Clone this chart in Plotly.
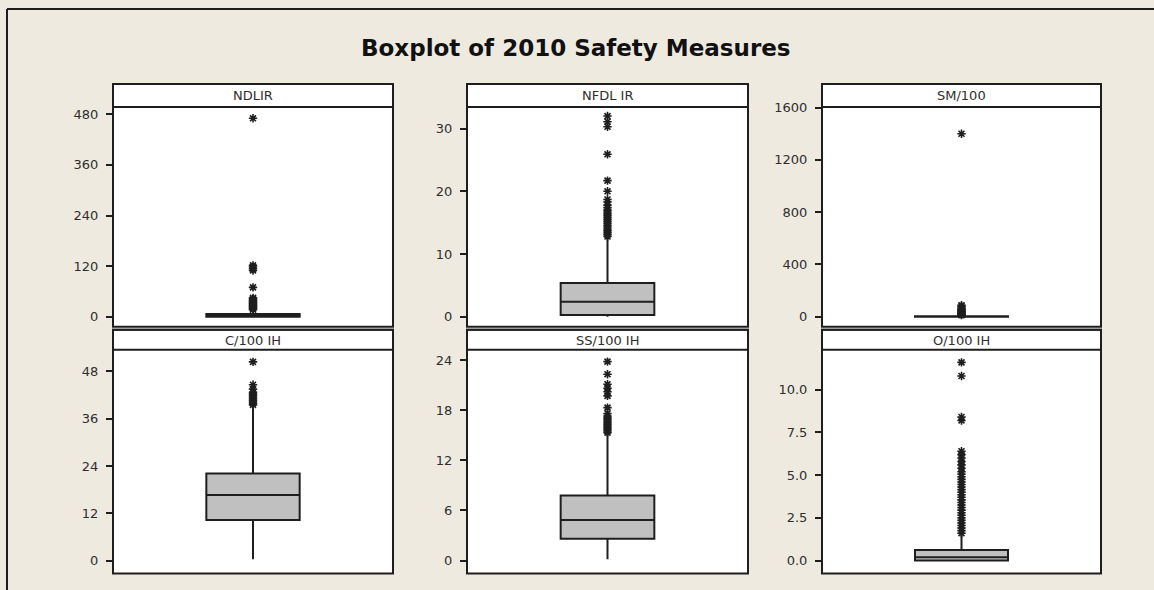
import plotly.graph_objects as go

W, H = 1154, 590

# ---- data ----
panel_titles = ["NDLIR", "NFDL IR", "SM/100", "C/100 IH", "SS/100 IH", "O/100 IH"]

q1_vals = [0.5, 0.27, 0.0, 10.3, 2.6, 0.0]
median_vals = [3.0, 2.4, 1.0, 16.6, 4.86, 0.19]
q3_vals = [7.0, 5.37, 4.0, 22.1, 7.77, 0.62]
lower_whisker = [0.0, 0.0, 0.0, 0.3, 0.15, 0.0]
upper_whisker = [16.0, 12.6, 10.0, 39.3, 15.1, 1.55]

out_ndlir = [17, 19, 21, 23, 25, 27, 29, 31, 33, 35, 37, 39, 42, 45, 70, 110, 114, 118, 122, 470]
out_nfdlir = [12.8, 13.1, 13.4, 13.7, 14.0, 14.3, 14.6, 14.9, 15.2, 15.5, 15.8, 16.1, 16.4,
              16.7, 17.0, 17.4, 17.8, 18.3, 18.7, 20.0, 21.7, 25.9, 30.3, 31.1, 32.0]
out_sm = [12, 16, 20, 25, 30, 35, 40, 45, 50, 55, 60, 70, 80, 88, 1400]
out_c = [39.5, 39.9, 40.3, 40.7, 41.1, 41.5, 41.9, 42.3, 42.7, 43.5, 44.6, 50.4]
out_ss = [15.3, 15.5, 15.7, 15.9, 16.1, 16.3, 16.5, 16.7, 16.9, 17.1, 17.3, 17.6,
          18.3, 19.7, 20.2, 20.6, 21.1, 22.3, 23.8]
out_o = [1.6, 1.75, 1.9, 2.05, 2.2, 2.35, 2.5, 2.65, 2.8, 2.95, 3.1, 3.25, 3.4, 3.55,
         3.7, 3.85, 4.0, 4.15, 4.3, 4.45, 4.6, 4.75, 4.9, 5.05, 5.2, 5.4, 5.6, 5.8,
         6.0, 6.2, 6.4, 8.2, 8.4, 10.8, 11.6]
outliers = [out_ndlir, out_nfdlir, out_sm, out_c, out_ss, out_o]

y_ranges = [[-23.2, 497], [-1.59, 33.46], [-76.5, 1605], [-3.3, 53.5], [-1.55, 25.23], [-0.76, 12.34]]
tick_vals = [[0, 120, 240, 360, 480], [0, 10, 20, 30], [0, 400, 800, 1200, 1600],
             [0, 12, 24, 36, 48], [0, 6, 12, 18, 24], [0, 2.5, 5, 7.5, 10]]
tick_formats = ["d", "d", "d", "d", "d", ".1f"]

# ---- layout geometry (pixels, target positions) ----
cols = [(113, 393), (467, 748), (822, 1101)]
plot_rows = [(106, 326), (349, 573)]
strip_rows = [(83, 106), (329, 349)]

def px(x):
    return x / W

def py(y):
    # empirical correction for vertical placement observed in the renderer
    y_in = (y - 6.0) / 0.989
    return 1 - y_in / H

BG = "#EEEAE0"
INK = "#1e1e1e"
TXT = "#2e2e2e"
FONT = "DejaVu Sans"

fig = go.Figure()
layout = dict(
    width=W, height=H, margin=dict(l=0, r=0, t=0, b=0),
    paper_bgcolor=BG, plot_bgcolor="white", showlegend=False,
)
shapes = []
annotations = []

for i in range(6):
    r, c = divmod(i, 3)
    n = "" if i == 0 else str(i + 1)
    xa, ya = "x" + n, "y" + n
    fig.add_trace(go.Box(
        x=[0], q1=[q1_vals[i]], median=[median_vals[i]], q3=[q3_vals[i]],
        lowerfence=[lower_whisker[i]], upperfence=[upper_whisker[i]],
        width=1.0, whiskerwidth=0, boxpoints=False,
        fillcolor="#C0C0C0", line=dict(color=INK, width=2),
        xaxis=xa, yaxis=ya, hoverinfo="skip",
    ))
    fig.add_trace(go.Scatter(
        x=[0] * len(outliers[i]), y=outliers[i], mode="markers",
        marker=dict(symbol="asterisk-open", size=7, color=INK,
                    line=dict(color=INK, width=1.6)),
        xaxis=xa, yaxis=ya, hoverinfo="skip",
    ))
    x0, x1 = cols[c]
    y0, y1 = plot_rows[r]
    s0, s1 = strip_rows[r]
    layout["xaxis" + n] = dict(
        domain=[px(x0), px(x1)], range=[-1.5, 1.5], anchor=ya,
        showticklabels=False, ticks="", showgrid=False, zeroline=False, showline=False,
        fixedrange=True,
    )
    layout["yaxis" + n] = dict(
        domain=[py(y1), py(y0)], range=y_ranges[i], anchor=xa,
        tickvals=tick_vals[i], tickformat=tick_formats[i],
        ticks="outside", ticklen=6, tickwidth=2, tickcolor=INK,
        ticklabelstandoff=5,
        tickfont=dict(family=FONT, size=13, color=TXT),
        showgrid=False, zeroline=False, showline=False, fixedrange=True,
    )
    if r == 1:
        # white gap between the upper panel and the lower strip
        shapes.append(dict(type="rect", xref="paper", yref="paper",
                           x0=px(x0), x1=px(x1), y0=py(s0 + 1), y1=py(plot_rows[0][1] - 1),
                           fillcolor="white", line=dict(width=0), layer="below"))
    # strip
    shapes.append(dict(type="rect", xref="paper", yref="paper",
                       x0=px(x0), x1=px(x1), y0=py(s1), y1=py(s0),
                       fillcolor="white", line=dict(color=INK, width=2), layer="below"))
    # panel border
    shapes.append(dict(type="rect", xref="paper", yref="paper",
                       x0=px(x0), x1=px(x1), y0=py(y1), y1=py(s0),
                       line=dict(color=INK, width=2), layer="above"))
    annotations.append(dict(
        text=panel_titles[i], xref="paper", yref="paper",
        x=px((x0 + x1) / 2), y=py((s0 + s1) / 2 + 0.5),
        xanchor="center", yanchor="middle", showarrow=False,
        font=dict(family=FONT, size=13, color=TXT),
    ))

# outer frame lines
shapes.append(dict(type="line", xref="paper", yref="paper",
                   x0=px(7), x1=1, y0=py(8), y1=py(8), line=dict(color=INK, width=2)))
shapes.append(dict(type="line", xref="paper", yref="paper",
                   x0=px(7), x1=px(7), y0=py(8), y1=0, line=dict(color=INK, width=2)))

annotations.append(dict(
    text="<b>Boxplot of 2010 Safety Measures</b>", xref="paper", yref="paper",
    x=px(576), y=py(47), xanchor="center", yanchor="middle", showarrow=False,
    font=dict(family=FONT, size=23, color="#111111"),
))

layout["shapes"] = shapes
layout["annotations"] = annotations
fig.update_layout(**layout)
fig.write_html("out.html")
